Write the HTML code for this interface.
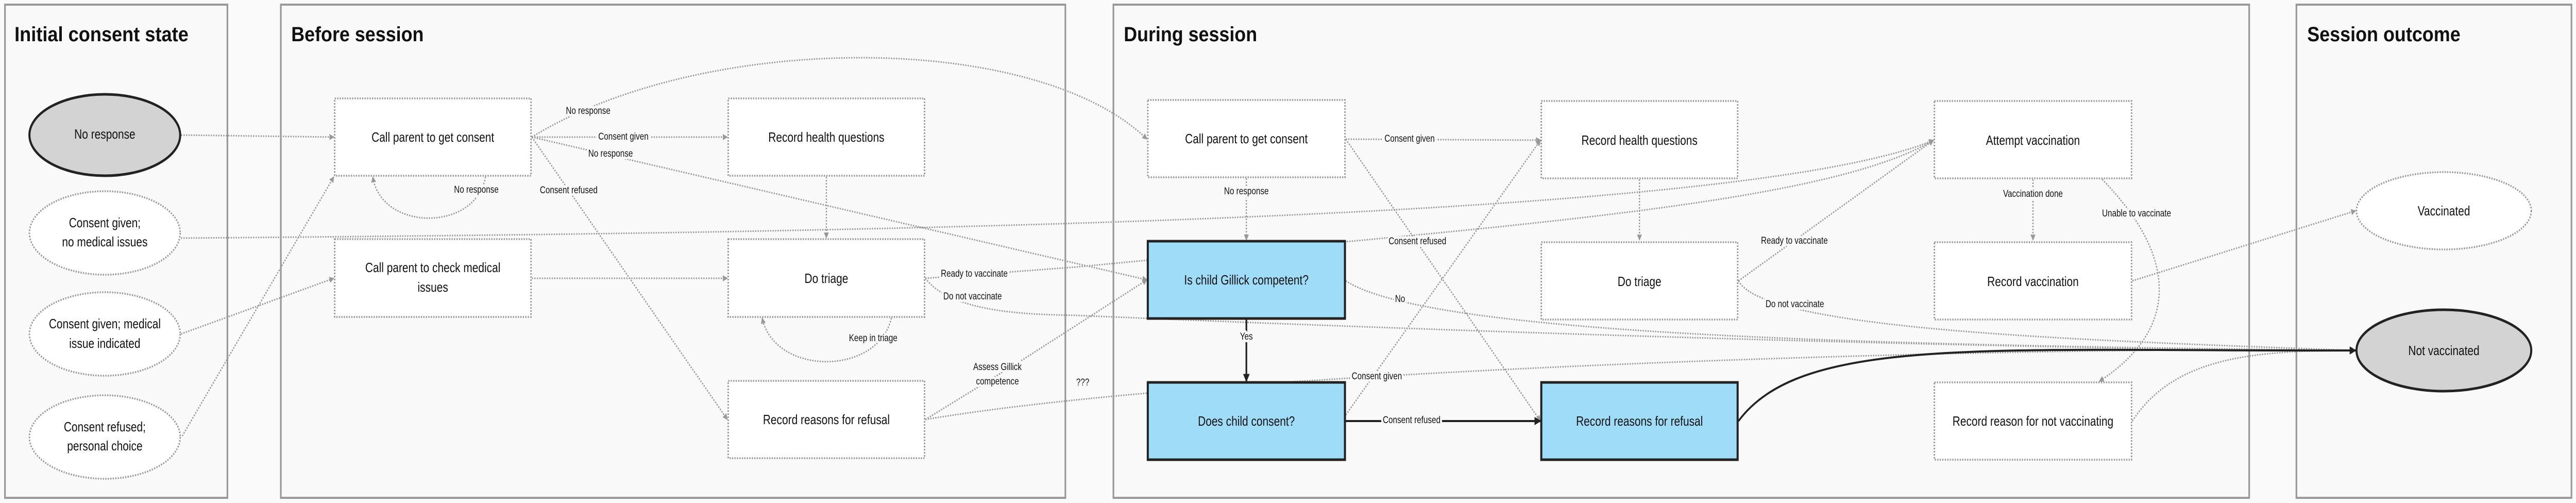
<!DOCTYPE html>
<html><head><meta charset="utf-8"><style>
html,body{margin:0;padding:0;background:#fafafa;width:100%;height:100%;overflow:hidden}
svg{display:block;width:100vw;height:100vh}
text{font-family:"Liberation Sans",sans-serif;fill:#111}
.t{font-size:40px;font-weight:bold}
.n{font-size:26px;text-anchor:middle;dominant-baseline:middle}
.l{font-size:19px;text-anchor:middle;dominant-baseline:middle;paint-order:stroke;stroke:#f9f9f9;stroke-width:10px;stroke-linejoin:round}
.p{fill:#f9f9f9;stroke:#999;stroke-width:4}
.b{fill:#fff;stroke:#999;stroke-width:3.5;stroke-dasharray:3 3}
.k{fill:#9fdcf8;stroke:#222;stroke-width:5}
.e{fill:none;stroke:#999;stroke-width:3;stroke-dasharray:3 3}
.s{fill:none;stroke:#222;stroke-width:4}
</style></head><body>
<svg viewBox="0 0 6219 976" preserveAspectRatio="none" xmlns="http://www.w3.org/2000/svg">
<defs>
<marker id="a" viewBox="0 0 10 10" refX="9" refY="5" markerWidth="4" markerHeight="4" orient="auto"><path d="M0,0L10,5L0,10z" fill="#999"/></marker>
<marker id="ak" viewBox="0 0 10 10" refX="9" refY="5" markerWidth="4" markerHeight="4" orient="auto"><path d="M0,0L10,5L0,10z" fill="#222"/></marker>
</defs>
<rect class="p" x="12" y="9" width="537" height="957"/>
<rect class="p" x="678" y="9" width="1894" height="957"/>
<rect class="p" x="2688" y="9" width="2742" height="957"/>
<rect class="p" x="5544" y="9" width="664" height="957"/>
<text class="t" x="35" y="80" textLength="420" lengthAdjust="spacingAndGlyphs">Initial consent state</text>
<text class="t" x="703" y="80" textLength="320" lengthAdjust="spacingAndGlyphs">Before session</text>
<text class="t" x="2713" y="80" textLength="322" lengthAdjust="spacingAndGlyphs">During session</text>
<text class="t" x="5570" y="80" textLength="370" lengthAdjust="spacingAndGlyphs">Session outcome</text>

<g>
<path class="e" marker-end="url(#a)" d="M437,262 L806,266"/>
<path class="e" marker-end="url(#a)" d="M437,462 C2000,452 4200,430 4668,272"/>
<path class="e" marker-end="url(#a)" d="M437,648 L806,540"/>
<path class="e" marker-end="url(#a)" d="M440,846 L806,343"/>
<path class="e" marker-end="url(#a)" d="M1284,266 L1756,266"/>
<path class="e" marker-end="url(#a)" d="M1284,266 C1700,60 2500,60 2769,270"/>
<path class="e" marker-end="url(#a)" d="M1284,266 L2769,543"/>
<path class="e" marker-end="url(#a)" d="M1172,343 C1150,450 920,450 900,343"/>
<path class="e" marker-end="url(#a)" d="M1284,266 L1756,814"/>
<path class="e" marker-end="url(#a)" d="M1284,540 L1756,540"/>
<path class="e" marker-end="url(#a)" d="M1995,343 L1995,462"/>
<path class="e" marker-end="url(#a)" d="M2152,617 C2120,730 1870,730 1840,617"/>
<path class="e" marker-end="url(#a)" d="M2234,540 L2600,518 C3600,440 4400,400 4668,272"/>
<path class="e" marker-end="url(#a)" d="M2234,540 C2300,610 2500,610 2600,612 C4000,660 5200,680 5687,680"/>
<path class="e" marker-end="url(#a)" d="M2234,814 L2471,697 L2769,543"/>
<path class="e" marker-end="url(#a)" d="M2234,814 C3000,710 5000,670 5687,680"/>
<path class="e" marker-end="url(#a)" d="M3009,346 L3009,466"/>
<path class="e" marker-end="url(#a)" d="M3249,270 L3719,272"/>
<path class="e" marker-end="url(#a)" d="M3249,270 L3719,817"/>
<path class="e" marker-end="url(#a)" d="M3249,545 C3450,650 4500,670 5687,680"/>
<path class="e" marker-end="url(#a)" d="M3249,805 L3719,272"/>
<path class="e" marker-end="url(#a)" d="M3958,348 L3958,466"/>
<path class="e" marker-end="url(#a)" d="M4197,545 L4668,272"/>
<path class="e" marker-end="url(#a)" d="M4197,545 C4260,640 5000,660 5687,680"/>
<path class="e" marker-end="url(#a)" d="M4908,348 L4908,466"/>
<path class="e" marker-end="url(#a)" d="M5075,348 C5260,500 5260,640 5068,740"/>
<path class="e" marker-end="url(#a)" d="M5148,545 L5687,409"/>
<path class="e" marker-end="url(#a)" d="M5148,817 C5250,690 5450,680 5687,680"/>
<path class="s" marker-end="url(#ak)" d="M3009,620 L3009,740"/>
<path class="s" marker-end="url(#ak)" d="M3249,817 L3719,817"/>
<path class="s" marker-end="url(#ak)" d="M4197,817 C4350,650 4800,682 5687,680"/>
</g>

<ellipse cx="253" cy="262" rx="182" ry="79" fill="#d3d3d3" stroke="#222" stroke-width="5"/>
<text class="n" x="253" y="262">No response</text>
<ellipse class="b" cx="253" cy="452" rx="182" ry="81"/>
<text class="n" x="253" y="434">Consent given;</text><text class="n" x="253" y="471">no medical issues</text>
<ellipse class="b" cx="253" cy="648" rx="182" ry="81"/>
<text class="n" x="253" y="630">Consent given; medical</text><text class="n" x="253" y="668">issue indicated</text>
<ellipse class="b" cx="253" cy="848" rx="182" ry="81"/>
<text class="n" x="253" y="830">Consent refused;</text><text class="n" x="253" y="867">personal choice</text>

<rect class="b" x="808" y="191" width="474" height="150"/><text class="n" x="1045" y="268">Call parent to get consent</text>
<rect class="b" x="808" y="464" width="474" height="151"/><text class="n" x="1045" y="521">Call parent to check medical</text><text class="n" x="1045" y="559">issues</text>
<rect class="b" x="1758" y="191" width="474" height="150"/><text class="n" x="1995" y="268">Record health questions</text>
<rect class="b" x="1758" y="464" width="474" height="151"/><text class="n" x="1995" y="542">Do triage</text>
<rect class="b" x="1758" y="739" width="474" height="150"/><text class="n" x="1995" y="816">Record reasons for refusal</text>

<rect class="b" x="2771" y="194" width="476" height="150"/><text class="n" x="3009" y="271">Call parent to get consent</text>
<rect class="b" x="3721" y="196" width="474" height="150"/><text class="n" x="3958" y="274">Record health questions</text>
<rect class="b" x="4670" y="196" width="476" height="150"/><text class="n" x="4908" y="274">Attempt vaccination</text>
<rect class="k" x="2771" y="468" width="476" height="150"/><text class="n" x="3009" y="545">Is child Gillick competent?</text>
<rect class="b" x="3721" y="470" width="474" height="150"/><text class="n" x="3958" y="548">Do triage</text>
<rect class="b" x="4670" y="470" width="476" height="150"/><text class="n" x="4908" y="548">Record vaccination</text>
<rect class="k" x="2771" y="742" width="476" height="150"/><text class="n" x="3009" y="819">Does child consent?</text>
<rect class="k" x="3721" y="742" width="474" height="150"/><text class="n" x="3958" y="819">Record reasons for refusal</text>
<rect class="b" x="4670" y="742" width="476" height="150"/><text class="n" x="4908" y="819">Record reason for not vaccinating</text>

<ellipse class="b" cx="5900" cy="409" rx="211" ry="75"/><text class="n" x="5900" y="411">Vaccinated</text>
<ellipse cx="5900" cy="680" rx="211" ry="79" fill="#d3d3d3" stroke="#222" stroke-width="5"/><text class="n" x="5900" y="682">Not vaccinated</text>

<g>
<text class="l" x="1420" y="216">No response</text>
<text class="l" x="1505" y="266">Consent given</text>
<text class="l" x="1474" y="299">No response</text>
<text class="l" x="1150" y="369">No response</text>
<text class="l" x="1373" y="370">Consent refused</text>
<text class="l" x="2108" y="657">Keep in triage</text>
<text class="l" x="2352" y="532">Ready to vaccinate</text>
<text class="l" x="2348" y="576">Do not vaccinate</text>
<text class="l" x="2408" y="713">Assess Gillick</text>
<text class="l" x="2408" y="741">competence</text>
<text class="l" x="2614" y="743">???</text>
<text class="l" x="3009" y="372">No response</text>
<text class="l" x="3403" y="270">Consent given</text>
<text class="l" x="3422" y="469">Consent refused</text>
<text class="l" x="3380" y="581">No</text>
<text class="l" x="3009" y="654">Yes</text>
<text class="l" x="3324" y="731">Consent given</text>
<text class="l" x="3408" y="816">Consent refused</text>
<text class="l" x="4332" y="468">Ready to vaccinate</text>
<text class="l" x="4333" y="591">Do not vaccinate</text>
<text class="l" x="4908" y="377">Vaccination done</text>
<text class="l" x="5158" y="415">Unable to vaccinate</text>
</g>
</svg>
</body></html>
